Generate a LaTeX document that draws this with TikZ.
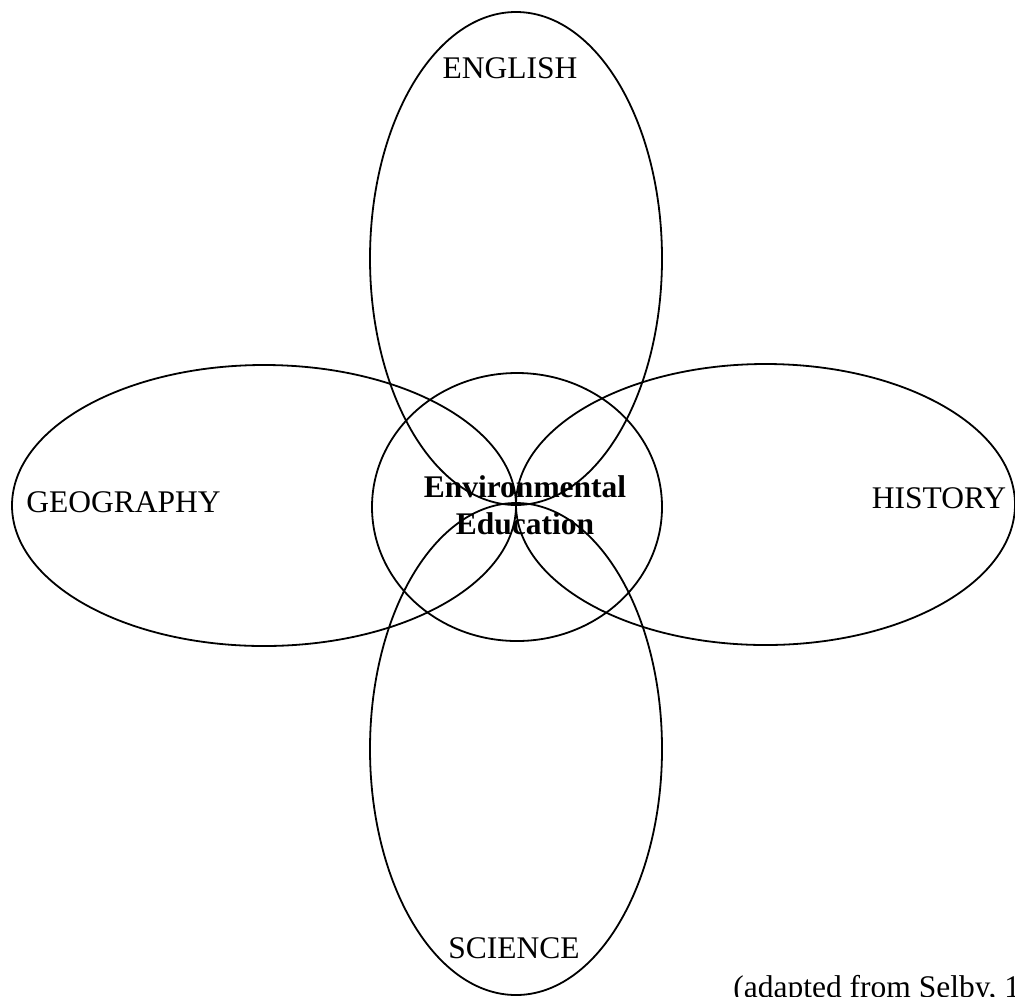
\documentclass[tikz,border=0pt]{standalone}
\usepackage{fontspec}
\setmainfont{Liberation Serif}

\begin{document}
\begin{tikzpicture}[
  x=0.5pt, y=-0.5pt,
  every node/.style={font=\fontsize{15.75}{18.5}\selectfont, inner sep=0pt},
  ring/.style={draw=black, line width=0.9pt},
  subject/.style={anchor=base},
  core/.style={anchor=base, font=\fontsize{15.75}{18.5}\selectfont\bfseries}
]
\useasboundingbox (0,0) rectangle (1015,996);
\clip (0,0) rectangle (1015,996);

% subject ellipses round the centre
\draw[ring] (516,258.5) ellipse [x radius=146, y radius=246.5];
\draw[ring] (516,749) ellipse [x radius=146, y radius=246];
\draw[ring] (264,505.5) ellipse [x radius=252, y radius=140.5];
\draw[ring] (765.5,504.5) ellipse [x radius=249.5, y radius=140.5];
\draw[ring] (517,507) ellipse [x radius=145, y radius=134];

\node[subject] (english)   at (510,78)    {ENGLISH};
\node[subject] (geography) at (123.5,512) {GEOGRAPHY};
\node[subject] (history)   at (939,508)   {HISTORY};
\node[subject] (science)   at (514,958)   {SCIENCE};

\node[core] (envtxt) at (525,497) {Environmental};
\node[core] (edutxt) at (525,534) {Education};

\node[anchor=base west] (source) at (733,997) {(adapted from Selby, 1};
\end{tikzpicture}
\end{document}
